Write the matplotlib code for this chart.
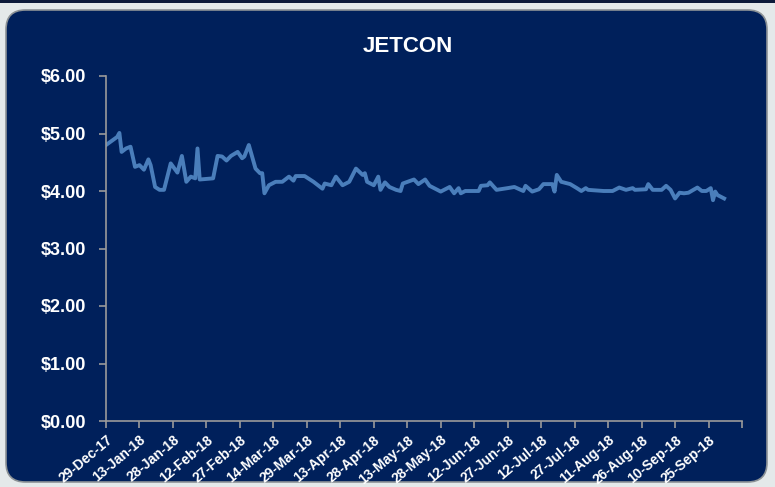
import numpy as np
import pandas as pd
import matplotlib
matplotlib.use("Agg")
import matplotlib.pyplot as plt
from matplotlib.patches import FancyBboxPatch, Rectangle

# days after 29-Dec-2017 and closing price
days = [0, 5, 6, 7, 9, 11, 13, 15, 17, 19, 20, 22, 24, 26, 29, 32, 34, 36, 38, 40,
        41, 42, 48, 50, 52, 54, 56, 59, 61, 62, 64, 67, 69, 70, 71, 73, 76, 79, 82, 84,
        85, 89, 93, 97, 98, 101, 103, 106, 109, 112, 115, 116, 117, 120, 122, 123, 125, 127, 130, 132,
        133, 138, 140, 143, 145, 150, 154, 156, 158, 159, 161, 167, 168, 171, 172, 175, 180, 183, 187, 188,
        191, 194, 196, 200, 201, 202, 204, 208, 211, 213, 215, 216, 223, 227, 230, 233, 236, 237, 242, 243,
        245, 249, 251, 253, 255, 257, 259, 261, 265, 267, 269, 271, 272, 273, 274, 276, 277]
price = [4.80, 4.94, 5.01, 4.68, 4.74, 4.77, 4.42, 4.45, 4.37, 4.55, 4.45, 4.07, 4.02, 4.02, 4.48, 4.32, 4.61, 4.16, 4.25, 4.22,
         4.74, 4.20, 4.22, 4.61, 4.60, 4.53, 4.61, 4.68, 4.57, 4.60, 4.80, 4.39, 4.31, 4.31, 3.96, 4.10, 4.16, 4.16, 4.25, 4.18,
         4.26, 4.26, 4.16, 4.04, 4.13, 4.10, 4.25, 4.10, 4.16, 4.39, 4.28, 4.31, 4.16, 4.10, 4.25, 4.02, 4.15, 4.07, 4.02, 4.00,
         4.13, 4.20, 4.12, 4.20, 4.09, 3.99, 4.07, 3.96, 4.05, 3.96, 4.00, 4.00, 4.09, 4.10, 4.15, 4.02, 4.05, 4.07, 4.00, 4.09,
         3.99, 4.03, 4.12, 4.12, 3.99, 4.28, 4.16, 4.12, 4.05, 4.00, 4.05, 4.02, 4.00, 4.00, 4.06, 4.02, 4.05, 4.02, 4.03, 4.12,
         4.02, 4.02, 4.09, 4.02, 3.87, 3.97, 3.96, 3.97, 4.06, 4.00, 4.00, 4.05, 3.84, 3.99, 3.93, 3.89, 3.87]

start = pd.Timestamp("2017-12-29")
dates = start + pd.to_timedelta(days, unit="D")
ticks = pd.date_range(start, periods=20, freq="15D")

navy = "#00205b"
font = ["Liberation Sans", "DejaVu Sans"]

fig = plt.figure(figsize=(7.75, 4.87), dpi=100)
fig.patch.set_facecolor("#e4e9ea")

# dark strip along the top edge
fig.add_artist(Rectangle((0, 0.994), 1, 0.006, transform=fig.transFigure,
                         facecolor="#0c1a3a", edgecolor="none", zorder=-2))
panel = FancyBboxPatch((6 / 775, 5 / 487), 761 / 775, 472 / 487,
                       boxstyle="round,pad=0,rounding_size=0.025",
                       transform=fig.transFigure, facecolor=navy,
                       edgecolor="#8c9296", linewidth=1.2, mutation_aspect=775 / 487,
                       zorder=-1)
fig.add_artist(panel)

ax = fig.add_axes([106 / 775, 66 / 487, 636 / 775, 345 / 487])
ax.set_facecolor("none")
ax.plot(dates, price, color="#4a7ebb", linewidth=2.8, solid_joinstyle="round")

ax.set_ylim(0, 6)
ax.set_yticks(np.arange(0, 7, 1))
ax.yaxis.set_major_formatter(plt.FuncFormatter(lambda v, p: "${:.2f}".format(v)))
ax.set_xlim(ticks[0], ticks[-1])
ax.set_xticks(ticks)
labels = [t.strftime("%d-%b-%y") for t in ticks]
labels[-1] = ""
ax.set_xticklabels(labels)

for s in ["top", "right"]:
    ax.spines[s].set_visible(False)
for s in ["left", "bottom"]:
    ax.spines[s].set_color("#9a9a9a")
    ax.spines[s].set_linewidth(1.2)
ax.tick_params(axis="both", colors="#9a9a9a", length=5, width=1.2)
ax.tick_params(axis="y", pad=9)
for lab in ax.get_yticklabels():
    lab.set_color("white")
    lab.set_fontweight("bold")
    lab.set_fontsize(13)
    lab.set_family(font)
for lab in ax.get_xticklabels():
    lab.set_color("white")
    lab.set_fontweight("bold")
    lab.set_fontsize(10)
    lab.set_family(font)
    lab.set_rotation(40)
    lab.set_ha("right")
    lab.set_rotation_mode("anchor")

fig.text(408 / 775, 1 - 47 / 487, "JETCON", color="white", fontsize=16,
         fontweight="bold", family=font, ha="center", va="center")

fig.savefig("out.png", dpi=100, facecolor=fig.get_facecolor())
